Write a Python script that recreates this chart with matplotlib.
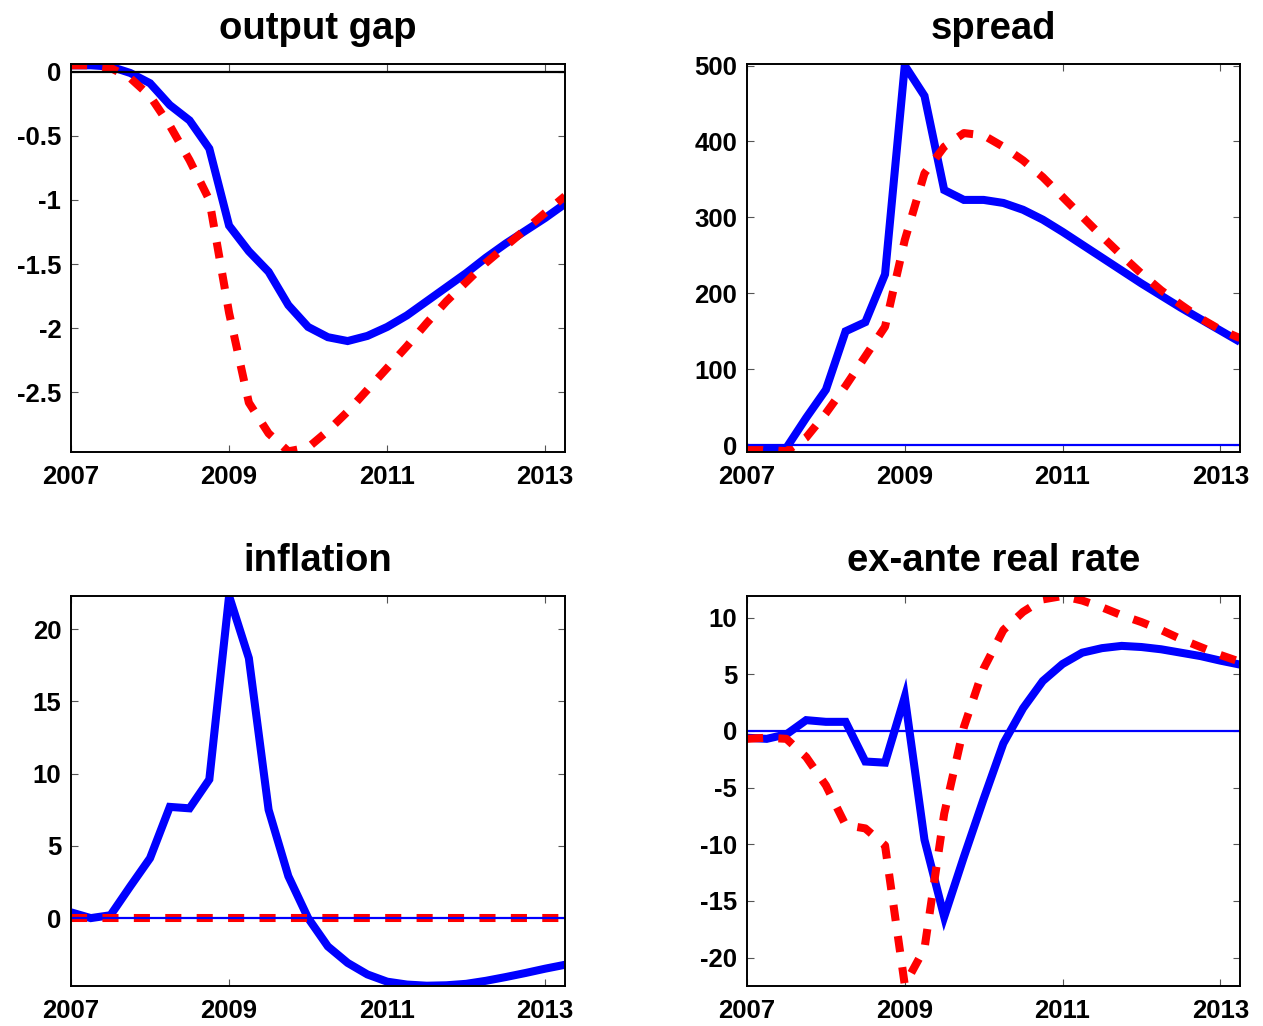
import numpy as np
import matplotlib
matplotlib.use("Agg")
import matplotlib.pyplot as plt

plt.rcParams['font.family'] = ['Liberation Sans', 'DejaVu Sans']
plt.rcParams['axes.unicode_minus'] = False

# quarterly dates 2007Q1 .. 2013Q2
quarters = [2007 + 0.25 * i for i in range(26)]

gap_solid = [0.05, 0.05, 0.04, -0.01, -0.09, -0.26, -0.38, -0.60, -1.20, -1.40,
             -1.56, -1.82, -1.99, -2.07, -2.10, -2.06, -1.99, -1.90, -1.79, -1.68,
             -1.57, -1.45, -1.34, -1.24, -1.14, -1.03]
gap_dashed = [0.05, 0.05, 0.03, -0.05, -0.19, -0.42, -0.69, -1.00, -1.88, -2.58,
              -2.82, -2.96, -2.93, -2.80, -2.65, -2.48, -2.31, -2.14, -1.96, -1.79,
              -1.64, -1.49, -1.36, -1.23, -1.10, -0.97]

spread_solid = [-3.5, -6, -3.5, 36, 73, 150, 162, 225, 500, 460,
                336, 323, 323, 319, 310, 297, 281, 264, 247, 230,
                213, 197, 181, 166, 151, 136]
spread_dashed = [-3.5, -6, -8, 10, 42, 78, 117, 156, 270, 358,
                 393, 411, 408, 393, 375, 353, 327, 301, 275, 250,
                 226, 204, 185, 167, 152, 141]

infl_solid = [0.4, 0.0, 0.2, 2.2, 4.15, 7.7, 7.6, 9.6, 22.3, 18.0,
              7.5, 2.9, 0.0, -1.96, -3.1, -3.9, -4.4, -4.6, -4.68, -4.65,
              -4.55, -4.34, -4.08, -3.8, -3.5, -3.23]
infl_dashed = [0.0] * 26

rate_solid = [-0.6, -0.7, -0.3, 0.95, 0.8, 0.8, -2.7, -2.8, 3.0, -9.6,
              -16.4, -11.1, -6.0, -1.1, 2.0, 4.4, 5.9, 6.9, 7.3, 7.5,
              7.4, 7.2, 6.9, 6.6, 6.2, 5.85]
rate_dashed = [-0.7, -0.6, -0.7, -2.3, -4.8, -8.3, -8.6, -10.1, -22.4, -19.2,
               -7.3, 0.35, 5.5, 8.9, 10.5, 11.6, 11.9, 11.5, 10.9, 10.2,
               9.6, 8.9, 8.1, 7.4, 6.7, 6.1]

titles = ["output gap", "spread", "inflation", "ex-ante real rate"]
xticks = [2007, 2009, 2011, 2013]

W, H = 1263, 1026
fig = plt.figure(figsize=(W / 100, H / 100), dpi=100)

def rect(l, r, t, b):
    return [l / W, 1 - b / H, (r - l) / W, (b - t) / H]

panels = [
    (rect(71, 565, 64, 452), gap_solid, gap_dashed, (-2.965, 0.06),
     [0, -0.5, -1, -1.5, -2, -2.5], ["0", "-0.5", "-1", "-1.5", "-2", "-2.5"], 'black'),
    (rect(747, 1240, 64, 452), spread_solid, spread_dashed, (-9, 502),
     [0, 100, 200, 300, 400, 500], None, 'blue'),
    (rect(71, 565, 596, 986), infl_solid, infl_dashed, (-4.7, 22.3),
     [0, 5, 10, 15, 20], None, 'blue'),
    (rect(747, 1240, 596, 986), rate_solid, rate_dashed, (-22.5, 11.9),
     [-20, -15, -10, -5, 0, 5, 10], None, 'blue'),
]

for (pos, ys, yd, ylim, yt, ytl, zcol), title in zip(panels, titles):
    ax = fig.add_axes(pos)
    ax.plot(quarters, ys, color='#0000ff', lw=5.8, solid_joinstyle='miter',
            solid_capstyle='butt', zorder=2)
    ax.plot(quarters, yd, color='#ff0000', lw=5.8, dashes=(2.0, 1.9),
            dash_capstyle='butt', zorder=3)
    ax.axhline(0, color=zcol, lw=1.6, zorder=4)
    ax.set_xlim(2007, 2013.25)
    ax.set_ylim(*ylim)
    ax.set_xticks(xticks)
    ax.set_xticklabels([str(x) for x in xticks])
    ax.set_yticks(yt)
    if ytl is not None:
        ax.set_yticklabels(ytl)
    else:
        ax.set_yticklabels([str(v) for v in yt])
    ax.tick_params(direction='in', length=5, width=0.8, color='#555555',
                   top=True, right=True, labelsize=18.5, pad=7)
    ax.tick_params(axis='x', pad=9)
    for lab in ax.get_xticklabels() + ax.get_yticklabels():
        lab.set_fontweight('bold')
    for s in ax.spines.values():
        s.set_linewidth(1.4)
        s.set_zorder(5)
    ax.set_title(title, fontsize=27.5, fontweight='bold', pad=18)

fig.savefig("out.png", dpi=100)
